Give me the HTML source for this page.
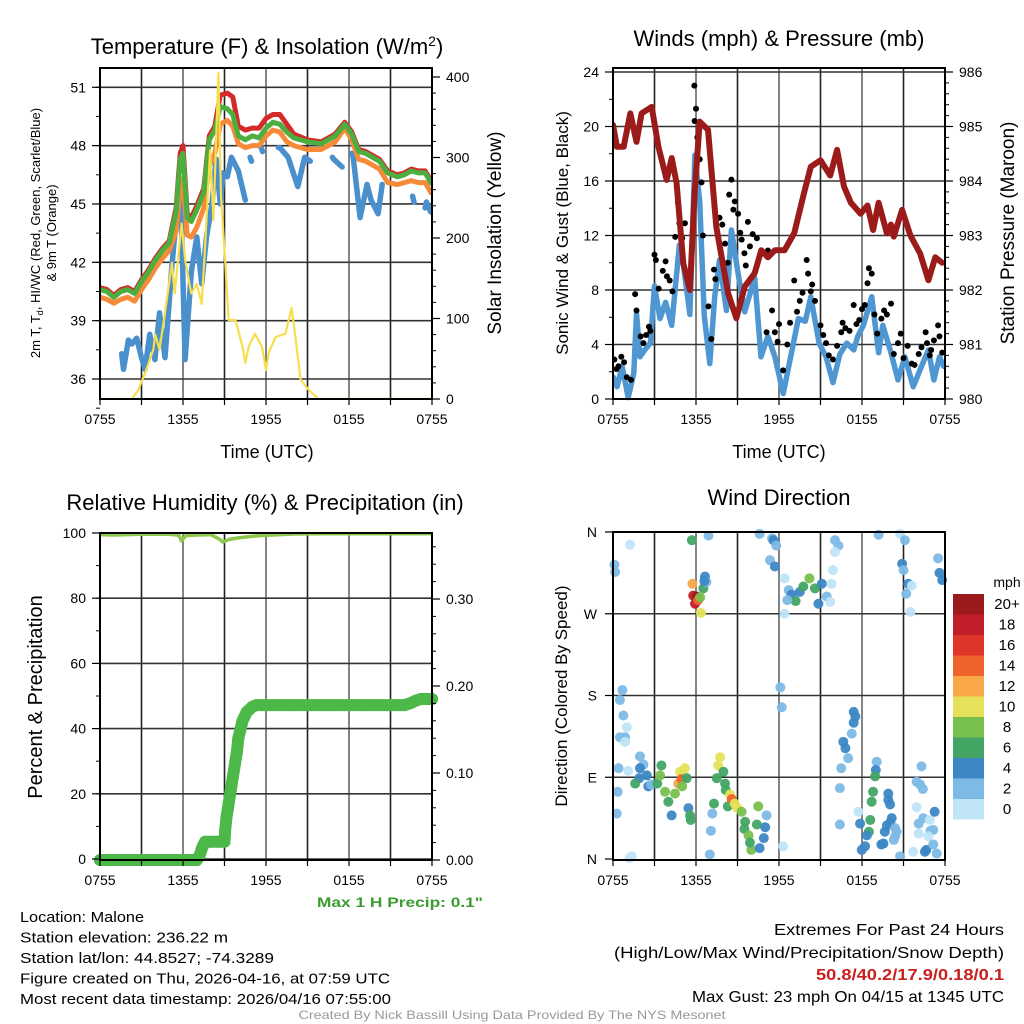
<!DOCTYPE html>
<html><head><meta charset="utf-8"><title>Malone Mesonet Meteogram</title>
<style>
html,body{margin:0;padding:0;background:#fff;}
svg{display:block;font-family:"Liberation Sans",Arial,sans-serif;}
</style></head>
<body>
<svg id="fig" width="1024" height="1024" viewBox="0 0 1024 1024" xmlns="http://www.w3.org/2000/svg">
<rect x="0" y="0" width="1024" height="1024" fill="#fff"/>
</svg>
<script>
// ---------- Temperature panel data (hours since 0755 UTC) ----------
const tempHours = [0,0.5,1,1.5,2,2.5,3,3.5,4,4.5,5,5.5,5.8,6.0,6.3,6.6,7,7.5,7.9,8.3,8.7,9.2,9.6,10,10.5,11,11.5,12,12.5,13,13.5,14,15,16,17,17.7,18.2,18.7,19.2,19.7,20.2,20.8,21.5,22,22.5,23,23.5,24];
const hiwcTemp = [40.6,40.5,40.2,40.5,40.6,40.4,41.0,41.5,42.1,42.6,43.0,44.6,47.3,47.6,44.3,44.1,44.7,45.6,48.3,48.8,50.0,49.9,49.6,48.5,48.3,48.5,48.4,48.9,49.2,49.1,48.7,48.4,48.2,48.1,48.5,49.1,48.6,47.7,47.6,47.4,47.2,46.6,46.4,46.5,46.7,46.6,46.6,46.0];
const temp2m = [40.7,40.6,40.3,40.6,40.7,40.5,41.1,41.6,42.2,42.7,43.1,44.8,47.6,48.0,44.5,44.3,44.9,45.8,48.5,49.0,50.6,50.7,50.5,49.0,48.8,48.9,48.9,49.4,49.6,49.6,49.1,48.6,48.3,48.2,48.6,49.2,48.7,47.8,47.7,47.5,47.3,46.7,46.5,46.6,46.8,46.7,46.7,46.1];
const temp9m = [40.2,40.1,39.9,40.1,40.2,40.0,40.6,41.1,41.7,42.2,42.6,43.6,45.8,46.3,43.4,43.3,43.8,44.8,46.9,47.6,49.1,49.3,49.0,48.1,47.9,48.0,48.0,48.5,48.8,48.7,48.2,48.0,47.8,47.8,48.2,48.9,48.3,47.3,47.2,47.0,46.8,46.1,46.0,46.1,46.2,46.1,46.1,45.5];
const dewHours = [1.57,1.7,2.05,2.3,2.65,3.0,3.25,3.6,3.97,4.3,4.7,5.2,5.5,5.8,5.9,6.15,6.6,7.0,7.35,7.7,8.1,8.4,8.7,8.9,9.2,9.5,10,10.5,10.6, 10.85,10.95,11.0, 11.6,11.75,11.8, 12.9,13.0,13.6,14.3,14.8,15.2,15.3, 16.8,16.9,17.5,17.6, 18.2,18.3,18.8,19.3,19.6,20.1,20.4,20.5, 22.6,22.7,22.8, 23.5,23.6,23.9];
const dewTemp = [37.3,36.5,38.0,37.8,38.1,37.1,36.5,38.3,37.0,39.4,37.1,41.8,44.2,45.5,43.8,37.0,41.5,43.3,40.9,43.3,45.0,47.3,45.0,46.6,46.4,47.4,46.7,45.2,null, 47.4,47.2,null, 48.0,47.7,null, 47.9,47.9,47.4,45.9,47.4,47.2,null, 47.4,47.3,46.9,null, 47.6,47.4,44.3,46.0,45.2,44.5,46.0,null, 45.4,45.1,null, 44.8,45.1,44.6];
const solarHours = [0,2.3,2.77,3.25,3.85,4.0,4.3,4.7,5.2,5.4,5.9,6.15,6.6,7.0,7.35,7.6,7.96,8.2,8.56,8.75,9.04,9.3,9.8,10.3,10.5,10.75,11.2,11.7,12.0,12.2,12.7,13.4,13.85,14.1,14.5,15.1,15.8,24];
const solarValues = [0,0,11,32,61,80,61,107,169,131,218,173,131,143,118,190,309,222,405,251,173,98,98,65,45,65,81,65,36,58,77,81,113,80,24,11,0,0];
const tempTicks = [36,39,42,45,48,51];
const solarTicks = [0,100,200,300,400];
const timeTickLabels = ["0755","1355","1955","0155","0755"];

// ---------- Wind / pressure data ----------
const presHours = [0,0.28,0.77,1.25,1.7,2.07,2.8,3.28,3.88,4.24,4.6,5.08,5.56,5.9,6.27,6.87,7.47,8.32,8.92,9.52,10.24,10.72,11.2,11.7,12.4,13.1,13.8,14.3,15.0,15.7,16.2,16.7,17.2,17.9,18.4,18.8,19.2,19.8,20.1,20.3,20.9,21.5,22.2,22.8,23.3,23.8];
const presValues = [985.03,984.63,984.63,985.24,984.72,985.24,985.36,984.63,984.02,984.42,983.96,982.49,982.0,983.77,985.09,984.94,983.16,981.94,981.48,982.06,982.31,982.73,982.6,982.73,982.73,983.04,983.77,984.26,984.38,984.1,984.57,983.9,983.6,983.4,983.55,983.1,983.6,983.04,983.2,982.98,983.47,983.0,982.67,982.18,982.6,982.5];
const windHours = [0.02,0.3,0.66,1.1,1.5,1.7,1.95,2.3,2.7,3.0,3.4,3.8,4.24,4.8,5.08,5.56,5.92,6.27,6.6,7.0,7.35,7.7,8.2,8.56,9.04,9.52,10.24,10.7,11.2,11.7,12.3,12.9,13.4,13.9,14.3,14.9,15.4,15.9,16.4,16.9,17.4,17.7,18.1,18.7,19.2,19.5,20.1,20.6,21.1,21.7,22.3,22.8,23.2,23.6,23.9];
const windValues = [1.6,0.9,2.4,0.1,1.9,6.3,3.1,3.6,4.1,8.3,5.9,7.1,5.4,11.3,9.9,6.2,17.9,14.5,6.1,2.6,7.5,10.2,6.5,12.4,9.2,6.4,8.9,3.1,4.6,3.1,0.4,3.4,5.9,5.7,7.5,4.1,3.1,1.2,3.3,4.1,3.6,4.6,5.4,7.5,3.4,5.4,3.4,1.4,3.1,0.9,2.4,3.6,1.4,3.1,2.4];
const gustHours = [0.1,0.6,1.6,1.7,2.2,2.4,3.0,3.1,3.8,3.9,4.7,4.8,5.2,5.88,6.0,5.9,6.27,6.4,6.5,6.9,7.1,7.4,7.7,8.56,8.8,9.04,9.3,9.75,9.9,9.5,10.7,11.2,11.5,11.1,11.7,12.6,13.1,13.5,14.0,14.1,14.4,14.6,15.0,15.4,15.9,16.5,17.4,18.2,18.4,18.7,18.9,19.4,20.1,20.6,21.3,22.1,22.6,23.2,23.5,23.8,0.4,1.0,2.7,4.3,8.3,12.0,13.3,16.8,17.8,19.8,21.6,22.9,
0.25,0.8,1.3,2.0,2.6,3.3,3.6,4.1,4.5,5.0,5.5,6.1,7.3,7.9,8.1,8.4,8.7,9.2,9.6,10.1,10.4,11.9,12.3,12.8,13.7,14.3,15.2,15.6,16.2,16.6,17.1,17.6,18.0,18.5,19.1,19.6,20.3,20.8,21.0,21.8,22.3,22.7,23.0,23.6];
const gustValues = [2.9,3.1,7.7,6.5,4.1,4.7,10.6,10.2,10.1,9.0,14.4,12.9,12.9,23.0,21.3,20.4,17.6,15.9,12.0,6.8,4.4,8.8,13.3,16.1,14.5,13.6,11.7,13.0,11.2,10.7,10.7,10.9,6.5,4.9,4.9,4.0,8.7,7.2,10.2,9.2,8.4,7.2,5.4,4.1,2.9,4.9,6.9,6.9,8.5,9.2,6.2,5.9,7.0,4.1,3.9,3.3,4.9,4.3,5.4,3.4,2.4,1.6,5.0,7.9,10.0,5.5,6.4,5.2,5.8,6.2,2.6,3.2,
2.2,2.7,1.4,4.6,5.3,8.1,9.4,8.7,11.9,11.8,9.0,19.2,9.5,12.8,11.4,15.0,13.9,12.2,9.8,12.1,11.8,4.2,2.1,5.6,7.8,7.9,4.7,3.2,3.9,5.6,5.0,5.5,6.6,9.6,4.8,6.5,3.3,4.8,3.0,2.5,3.8,4.1,3.6,4.6];
const windTicks = [0,4,8,12,16,20,24];
const presTicks = [980,981,982,983,984,985,986];

// ---------- RH / precip ----------
const rhHours = [0,1,2,3,4,5,5.7,5.9,6.2,7,8,8.6,8.9,9.3,10,11,12,14,16,18,20,22,24];
const rhValues = [99.5,99.4,99.5,99.6,99.6,99.6,99.3,97.6,99.2,99.4,99.5,98.2,97.2,98.0,98.5,99.0,99.3,99.7,99.8,99.8,99.8,99.8,99.8];
const precipHours = [0,1,2,3,4,5,6,7,7.2,7.4,7.6,8.0,8.5,9.0,9.05,9.15,9.3,9.45,9.6,9.75,9.9,10.0,10.15,10.3,10.45,10.6,10.8,11.0,11.3,11.6,12,13,14,15,16,17,18,19,20,21,22,22.4,22.8,23.2,23.6,24];
const precipValues = [0,0,0,0,0,0,0,0,0.005,0.015,0.021,0.021,0.021,0.021,0.035,0.05,0.065,0.08,0.095,0.11,0.125,0.14,0.15,0.16,0.165,0.17,0.173,0.176,0.178,0.178,0.178,0.178,0.178,0.178,0.178,0.178,0.178,0.178,0.178,0.178,0.178,0.18,0.183,0.185,0.185,0.185];
const rhTicks = [0,20,40,60,80,100];
const precipTicks = [0.00,0.10,0.20,0.30];

// ---------- Wind direction scatter ----------
const dirHours = [1.23,0.1,0.15,5.7,6.9,5.74,6.65,6.53,6.75,5.8,6.05,5.93,6.15,6.3,6.36,6.6,
10.6,11.5,11.6,11.8,11.35,11.7,12.4,12.7,12.9,13.2,12.6,13.5,13.76,14.2,14.6,15.1,15.8,15.45,14.85,15.7,12.4,15.9,16.05,16.3,16.05,19.2,20.75,21.1,20.9,21.0,21.35,21.6,21.2,21.5,23.5,23.6,23.8,
0.68,0.5,0.75,1.0,0.5,0.87,0.87,0.4,1.95,2.2,1.95,1.1,2.44,1.9,1.6,2.55,2.75,0.34,0.27,1.35,1.2,3.2,3.5,3.4,3.76,4.0,4.24,4.48,4.85,4.72,4.95,5.2,5.33,5.0,5.45,5.57,5.62,
7.0,7.08,7.18,7.3,7.5,7.6,7.74,7.98,8.1,8.15,8.3,8.46,8.58,8.8,9.0,9.3,9.55,9.5,9.8,10.0,9.9,10.4,10.5,10.9,11.0,11.1,10.6,12.3,12.2,12.1,
17.4,17.52,17.4,17.26,16.65,16.8,17.0,16.5,16.4,19.06,19.0,18.95,18.8,18.7,18.6,18.5,18.35,18.22,17.98,17.74,17.86,16.4,19.9,19.9,20.03,20.15,20.05,19.8,19.65,19.55,19.4,20.4,20.5,20.4,20.3,20.75,
22.3,21.95,22.2,22.4,21.95,22.1,22.43,22.9,23.25,23.15,22.95,22.1,22.8,21.7,22.55,22.65,23.15,23.4];
const dirDegrees = [346,324,316,351,356,303,311,298,305,290,289,281,285,288,271,306,
358,353,351,345,329,322,309,296,291,284,285,294,300,309,298,303,303,289,281,283,270,318,351,345,338,357,358,351,325,318,303,301,292,272,331,315,307,
186,175,158,145,134,134,129,100,113,104,100,97,92,89,83,80,82,74,50,3,1,83,103,92,74,63,48,72,96,83,88,100,89,80,56,48,43,
5,31,50,61,89,103,112,96,83,76,58,71,66,61,56,52,41,33,26,10,18,38,58,23,35,48,12,14,167,189,
162,157,150,138,129,122,111,100,78,107,98,91,74,63,43,30,26,14,10,52,39,38,72,65,60,45,40,37,30,17,16,34,30,25,21,3,
102,85,82,77,57,39,45,43,52,32,31,28,25,8,8,10,16,6];
const dirSpeeds = [0,2,2,6,2,12,4,6,2,18,20,18,14,8,10,4,
2,2,4,2,2,4,0,2,4,6,2,4,6,8,6,4,0,2,4,0,0,0,2,2,0,2,0,2,4,2,4,0,2,0,2,4,4,
2,2,2,0,2,2,0,2,2,2,4,0,4,4,6,4,2,2,2,0,0,6,6,8,8,6,4,8,10,12,14,10,6,8,4,6,6,
2,2,2,6,6,10,10,6,6,6,6,10,14,10,10,8,6,6,8,8,6,6,8,4,4,2,4,0,2,2,
4,4,4,2,4,4,2,2,2,2,4,6,6,6,6,6,4,4,4,0,4,2,4,4,4,4,4,4,4,4,4,2,2,2,2,2,
2,2,2,2,0,2,2,0,4,2,2,0,0,0,4,4,2,2];
const dirTickLabels = ["N","E","S","W","N"];
const speedBins = ["0","2","4","6","8","10","12","14","16","18","20+"];
const speedColors = ["#bfe5f7","#7dbbe6","#3d87c5","#42a564","#78c04e","#e6e15a","#f8a848","#ef632b","#e0362a","#c01f2a","#9b1a1c"];

// ---------- helpers ----------
const NS = "http://www.w3.org/2000/svg";
const svg = document.getElementById("fig");
function mk(tag, attrs, parent){
  const e = document.createElementNS(NS, tag);
  for (const k in attrs) e.setAttribute(k, attrs[k]);
  (parent||svg).appendChild(e);
  return e;
}
function txt(str, x, y, size, anchor, parent, extra){
  const t = mk("text", Object.assign({x:x, y:y, "font-size":size, "text-anchor":anchor||"middle", fill:"#000"}, extra||{}), parent);
  t.textContent = str;
  return t;
}
function lin(d0,d1,p0,p1){ return v => p0 + (v-d0)/(d1-d0)*(p1-p0); }
function pathFrom(xs, ys, fx, fy){
  let d = "", pen = false;
  for (let i=0;i<xs.length;i++){
    if (ys[i]===null || ys[i]===undefined){ pen=false; continue; }
    d += (pen?"L":"M") + fx(xs[i]).toFixed(1) + "," + fy(ys[i]).toFixed(1);
    pen = true;
  }
  return d;
}
function panelFrame(g, x0, x1, y0, y1, hlines, fy){
  const fx = lin(0,24,x0,x1);
  for (let h=3; h<24; h+=3){
    const l = mk("line",{x1:fx(h),x2:fx(h),y1:y0,y2:y1,stroke:(h%6===0)?"#666":"#222","stroke-width":1.6},g);
    
    
  }
  hlines.forEach(v=>{
    const l = mk("line",{x1:x0,x2:x1,y1:fy(v),y2:fy(v),stroke:"#333","stroke-width":1.6},g);
    
    
  });
}
function frameBox(g,x0,x1,y0,y1){
  const r = mk("rect",{x:x0,y:y0,width:x1-x0,height:y1-y0,fill:"none",stroke:"#000","stroke-width":2},g);
  
  
}
function xAxis(g,x0,x1,y1){
  const fx = lin(0,24,x0,x1);
  for (let h=0; h<=24; h+=3){
    mk("line",{x1:fx(h),x2:fx(h),y1:y1,y2:y1+6,stroke:"#000","stroke-width":1.2},g);
  }
  timeTickLabels.forEach((s,i)=>{
    const t = txt(s, fx(i*6), y1+25, 14, "middle", g);
    
    
  });
}
function leftTicks(g, x0, ticks, fy, fmt, minorStep, lo, hi){
  for (let v=lo; v<=hi+1e-9; v+=minorStep){
    mk("line",{x1:x0-4,x2:x0,y1:fy(v),y2:fy(v),stroke:"#000","stroke-width":1},g);
  }
  ticks.forEach(v=>{
    mk("line",{x1:x0-8,x2:x0,y1:fy(v),y2:fy(v),stroke:"#000","stroke-width":1.2},g);
    const t = txt(fmt(v), x0-14, fy(v)+5, 14, "end", g);
    
    
  });
}
function rightTicks(g, x1, ticks, fy, fmt, minorStep, lo, hi){
  for (let v=lo; v<=hi+1e-9; v+=minorStep){
    mk("line",{x1:x1,x2:x1+4,y1:fy(v),y2:fy(v),stroke:"#000","stroke-width":1},g);
  }
  ticks.forEach(v=>{
    mk("line",{x1:x1,x2:x1+8,y1:fy(v),y2:fy(v),stroke:"#000","stroke-width":1.2},g);
    const t = txt(fmt(v), x1+14, fy(v)+5, 14, "start", g);
    
    
  });
}
function rotLabel(str, x, y, size, g, name){
  const t = txt(str, x, y, size, "middle", g, {transform:"rotate(-90 "+x+" "+y+")"});
  
  
  return t;
}

// ================= Panel 1: Temperature =================
(function(){
  const g = mk("g",{});
  
  
  const X0=100,X1=432,Y0=68,Y1=399;
  const fx = lin(0,24,X0,X1);
  const fy = lin(36,51,379,87.3);
  const fs = lin(0,400,399,77);
  panelFrame(g,X0,X1,Y0,Y1,tempTicks,fy);
  const clip = mk("clipPath",{id:"c1"},g);
  mk("rect",{x:X0,y:Y0,width:X1-X0,height:Y1-Y0},clip);
  const s = mk("g",{"clip-path":"url(#c1)"},g);
  const dew = mk("path",{d:pathFrom(dewHours,dewTemp,fx,fy),fill:"none",stroke:"#4a90cc","stroke-width":5.5,"stroke-linecap":"round","stroke-linejoin":"round"},s);
  
  
  const o = mk("path",{d:pathFrom(tempHours,temp9m,fx,fy),fill:"none",stroke:"#f58a38","stroke-width":5,"stroke-linejoin":"round"},s);
  
  
  const r = mk("path",{d:pathFrom(tempHours,temp2m,fx,fy),fill:"none",stroke:"#d42a2a","stroke-width":5,"stroke-linejoin":"round"},s);
  
  
  const gr = mk("path",{d:pathFrom(tempHours,hiwcTemp,fx,fy),fill:"none",stroke:"#4cae3e","stroke-width":5,"stroke-linejoin":"round"},s);
  
  
  const y = mk("path",{d:pathFrom(solarHours,solarValues,fx,fs),fill:"none",stroke:"#f7de4e","stroke-width":2.2,"stroke-linejoin":"round"},s);
  
  
  frameBox(g,X0,X1,Y0,Y1);
  leftTicks(g,X0,tempTicks,fy,v=>String(v),1.5,34.5,52);
  rightTicks(g,X1,solarTicks,fs,v=>String(v),20,0,400);
  xAxis(g,X0,X1,Y1);
  const title = mk("text",{x:267,y:54,"font-size":22,"text-anchor":"middle"},g);
  title.innerHTML = 'Temperature (F) &amp; Insolation (W/m<tspan dy="-8" font-size="14">2</tspan><tspan dy="8">)</tspan>';
  
  
  const yl = mk("text",{x:40,y:233,"font-size":13,"text-anchor":"middle",transform:"rotate(-90 40 233)"},g);
  yl.innerHTML = '2m T, T<tspan dy="3" font-size="9">d</tspan><tspan dy="-3">, HI/WC (Red, Green, Scarlet/Blue)</tspan>';
  
  
  rotLabel("& 9m T (Orange)",56,233,13,g,"temperature-y-axis-title-line2");
  rotLabel("Solar Insolation (Yellow)",501,233,19,g,"solar-y-axis-title");
  const xl = txt("Time (UTC)",267,458,18,"middle",g);
  
  
})();

// ================= Panel 2: Winds =================
(function(){
  const g = mk("g",{});
  
  
  const X0=613,X1=945,Y0=68,Y1=399;
  const fx = lin(0,24,X0,X1);
  const fy = lin(0,24,399,72);
  const fp = lin(980,986,399,72);
  panelFrame(g,X0,X1,Y0,Y1,windTicks,fy);
  const clip = mk("clipPath",{id:"c2"},g);
  mk("rect",{x:X0,y:Y0-2,width:X1-X0,height:Y1-Y0+4},clip);
  const s = mk("g",{"clip-path":"url(#c2)"},g);
  const w = mk("path",{d:pathFrom(windHours,windValues,fx,fy),fill:"none",stroke:"#4f97d2","stroke-width":5.5,"stroke-linejoin":"round","stroke-linecap":"round"},s);
  
  
  for (let i=0;i<gustHours.length;i++){
    const c = mk("circle",{cx:fx(gustHours[i]),cy:fy(gustValues[i]),r:3,fill:"#000"},s);
    
    
  }
  const p = mk("path",{d:pathFrom(presHours,presValues,fx,fp),fill:"none",stroke:"#9b1b1b","stroke-width":6,"stroke-linejoin":"round","stroke-linecap":"round"},s);
  
  
  frameBox(g,X0,X1,Y0,Y1);
  leftTicks(g,X0,windTicks,fy,v=>String(v),2,0,24);
  rightTicks(g,X1,presTicks,fp,v=>String(v),0.2,980,986);
  xAxis(g,X0,X1,Y1);
  const t = txt("Winds (mph) & Pressure (mb)",779,46,22,"middle",g);
  
  
  rotLabel("Sonic Wind & Gust (Blue, Black)",568,233,17,g,"wind-y-axis-title");
  rotLabel("Station Pressure (Maroon)",1014,233,19,g,"pressure-y-axis-title");
  const xl = txt("Time (UTC)",779,458,18,"middle",g);
  
  
})();

// ================= Panel 3: RH & Precip =================
(function(){
  const g = mk("g",{});
  
  
  const X0=100,X1=432,Y0=533,Y1=860;
  const fx = lin(0,24,X0,X1);
  const fy = lin(0,100,859,533);
  const fp = lin(0,0.3,860,599);
  panelFrame(g,X0,X1,Y0,Y1,rhTicks,fy);
  const s = mk("g",{},g);
  const rh = mk("path",{d:pathFrom(rhHours,rhValues,fx,fy),fill:"none",stroke:"#8cc84b","stroke-width":3.5,"stroke-linejoin":"round"},s);
  
  
  for (let i=0;i<precipHours.length;i++){
    const c = mk("circle",{cx:fx(precipHours[i]),cy:fp(precipValues[i]),r:6,fill:"#4cb848"},s);
    
    
  }
  const band = mk("path",{d:pathFrom(precipHours,precipValues,fx,fp),fill:"none",stroke:"#4cb848","stroke-width":12,"stroke-linejoin":"round","stroke-linecap":"round"},s);
  
  
  frameBox(g,X0,X1,Y0,Y1);
  leftTicks(g,X0,rhTicks,fy,v=>String(v),10,0,100);
  rightTicks(g,X1,precipTicks,fp,v=>v.toFixed(2),0.02,0,0.36);
  xAxis(g,X0,X1,Y1);
  const t = txt("Relative Humidity (%) & Precipitation (in)",265,510,22,"middle",g);
  
  
  rotLabel("Percent & Precipitation",42,697,20,g,"humidity-y-axis-title");
  const m = txt('Max 1 H Precip: 0.1"',400,907,14,"middle",g,{"font-weight":"bold",fill:"#3a9b2e",textLength:166,lengthAdjust:"spacingAndGlyphs"});
  
  
})();

// ================= Panel 4: Wind direction =================
(function(){
  const g = mk("g",{});
  
  
  const X0=613,X1=945,Y0=532,Y1=860;
  const fx = lin(0,24,X0,X1);
  const fy = lin(0,360,859,532);
  panelFrame(g,X0,X1,Y0,Y1,[90,180,270],fy);
  for (let i=0;i<dirHours.length;i++){
    const bin = Math.min(10, Math.round(dirSpeeds[i]/2));
    const c = mk("circle",{cx:fx(dirHours[i]),cy:fy(dirDegrees[i]),r:5,fill:speedColors[bin],"fill-opacity":0.95},g);
    
    
  }
  frameBox(g,X0,X1,Y0,Y1);
  dirTickLabels.forEach((s,i)=>{
    mk("line",{x1:X0-8,x2:X0,y1:fy(i*90),y2:fy(i*90),stroke:"#000","stroke-width":1.2},g);
    const t = txt(s,X0-16,fy(i*90)+5,14,"end",g);
    
    
  });
  xAxis(g,X0,X1,Y1);
  const t = txt("Wind Direction",779,505,22,"middle",g);
  
  
  rotLabel("Direction (Colored By Speed)",567,696,17,g,"direction-y-axis-title");
  const cb = mk("g",{},g);
  
  
  const u = txt("mph",1007,587,14,"middle",cb);
  
  
  for (let k=0;k<11;k++){
    const idx = 10-k;
    const r = mk("rect",{x:953,y:594+k*20.5,width:31,height:20.5,fill:speedColors[idx]},cb);
    
    
    const l = txt(speedBins[idx],1007,609+k*20.5,15,"middle",cb);
    
    
  }
})();

// ================= Footer text =================
(function(){
  const g = mk("g",{});
  
  
  const lines = [["Location: Malone",124],["Station elevation: 236.22 m",208],["Station lat/lon: 44.8527; -74.3289",254],["Figure created on Thu, 2026-04-16, at 07:59 UTC",370],["Most recent data timestamp: 2026/04/16 07:55:00",371]];
  lines.forEach((l,i)=>{
    const t = txt(l[0],20,922+i*20.5,15,"start",g,{textLength:l[1],lengthAdjust:"spacingAndGlyphs"});
    
    
  });
  const g2 = mk("g",{});
  
  
  const r1 = txt("Extremes For Past 24 Hours",1004,935,16,"end",g2,{textLength:230,lengthAdjust:"spacingAndGlyphs"});
  
  
  const r2 = txt("(High/Low/Max Wind/Precipitation/Snow Depth)",1004,958,16,"end",g2,{textLength:390,lengthAdjust:"spacingAndGlyphs"});
  
  
  const r3 = txt("50.8/40.2/17.9/0.18/0.1",1004,980,16,"end",g2,{fill:"#c8201f","font-weight":"bold",textLength:188,lengthAdjust:"spacingAndGlyphs"});
  
  
  const r4 = txt("Max Gust: 23 mph On 04/15 at 1345 UTC",1004,1002,16,"end",g2,{textLength:312,lengthAdjust:"spacingAndGlyphs"});
  
  
  const c = txt("Created By Nick Bassill Using Data Provided By The NYS Mesonet",512,1019,12,"middle",svg,{fill:"#999",textLength:427,lengthAdjust:"spacingAndGlyphs"});
  
  
})();
</script>
</body></html>
